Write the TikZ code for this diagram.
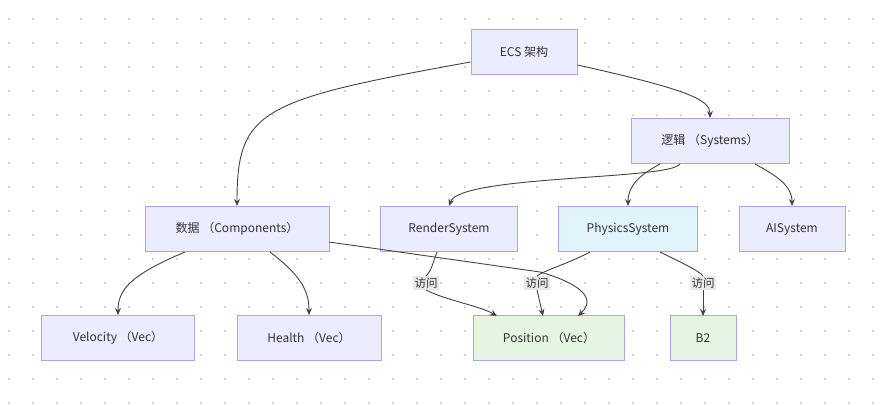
\documentclass[tikz,border=0pt]{standalone}
\usepackage{fontspec}
\setmainfont{Noto Sans CJK SC}
\usetikzlibrary{arrows.meta}
\definecolor{nfill}{HTML}{ECECFF}
\definecolor{nline}{HTML}{B4A0E6}
\definecolor{bfill}{HTML}{E1F4FC}
\definecolor{gfill}{HTML}{E6F4E4}
\definecolor{txt}{HTML}{333333}
\definecolor{edge}{HTML}{444444}
\definecolor{lbl}{HTML}{E8E8E8}
\begin{document}
\begin{tikzpicture}[x=1pt,y=-1pt,
  box/.style={draw=nline,fill=nfill,line width=1pt,minimum height=45pt,text=txt,font=\fontsize{12}{14}\selectfont,inner sep=0pt},
  lab/.style={fill=lbl,text=txt,font=\fontsize{11.5}{13}\selectfont,inner sep=1.5pt},
  e/.style={draw=edge,line width=0.9pt,-{Stealth[length=7pt,width=6pt]}},
  ln/.style={draw=edge,line width=0.9pt}]
\fill[white] (0,0) rectangle (882,406);
\useasboundingbox (0,0) rectangle (882,406);
\foreach \i in {0,...,36}{\foreach \j in {0,...,16}{\fill[gray!45] (9+24*\i,19+24*\j) circle (1.1pt);}}
\node[box,minimum width=106pt] (ecs) at (524,52) {ECS 架构};
\node[box,minimum width=158pt] (logic) at (710,141) {逻辑 （Systems）};
\node[box,minimum width=184pt] (data) at (237,229) {数据 （Components）};
\node[box,minimum width=137pt] (render) at (449,229) {RenderSystem};
\node[box,minimum width=139pt,fill=bfill] (phys) at (628,229) {PhysicsSystem};
\node[box,minimum width=106pt] (ai) at (792,229) {AISystem};
\node[box,minimum width=153pt] (vel) at (118,338) {Velocity （Vec）};
\node[box,minimum width=144pt] (health) at (309,338) {Health （Vec）};
\node[box,minimum width=151pt,fill=gfill] (pos) at (549,338) {Position （Vec）};
\node[box,minimum width=66pt,fill=gfill] (b2) at (703,338) {B2};
\draw[e] (ecs.east|-577,65) .. controls (690,90) and (710,100) .. (logic.north);
\draw[e] (ecs.west|-471,62) .. controls (260,100) and (237,110) .. (data.north);
\draw[e] (680,164) .. controls (670,180) and (460,175) .. (render.north);
\draw[e] (660,164) .. controls (640,175) and (628,185) .. (phys.north);
\draw[e] (755,164) .. controls (775,175) and (792,185) .. (ai.north);
\draw[e] (185,252) .. controls (130,275) and (118,290) .. (vel.north-|118,0);
\draw[e] (270,252) .. controls (300,275) and (309,290) .. (health.north-|309,0);
\draw[e] (329,242) -- (540,272) .. controls (585,285) and (595,300) .. (578,316);
\node[lab] (l1) at (426,283) {访问};
\node[lab] (l2) at (537,283) {访问};
\node[lab] (l3) at (703,283) {访问};
\draw[ln] (437,252) .. controls (433,262) and (432,270) .. (l1.north);
\draw[e] (l1.south) .. controls (445,300) and (480,306) .. (497,316);
\draw[ln] (590,252) .. controls (565,265) and (545,270) .. (l2.north);
\draw[e] (l2.south) -- (543,316);
\draw[ln] (660,252) .. controls (680,262) and (698,270) .. (l3.north);
\draw[e] (l3.south) -- (703,316);
\end{tikzpicture}
\end{document}
